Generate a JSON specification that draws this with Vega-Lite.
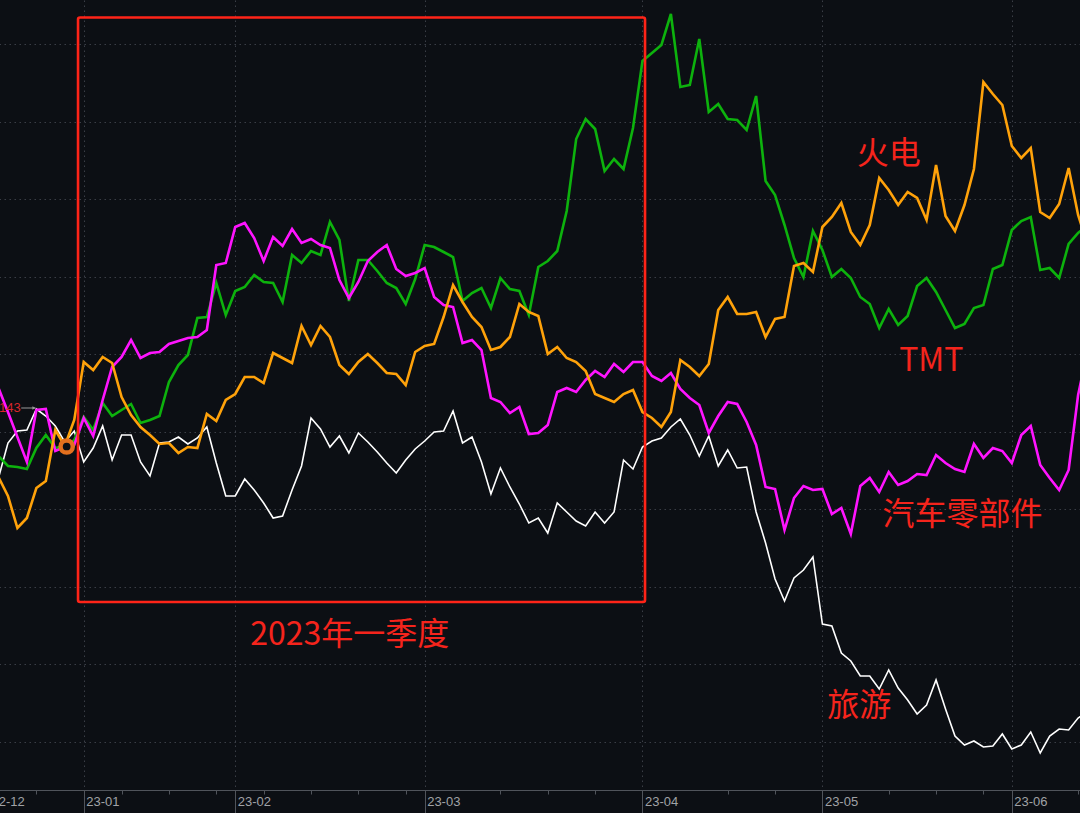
{
  "$schema": "https://vega.github.io/schema/vega-lite/v6.json",
  "width": 1080,
  "height": 790,
  "autosize": {"type": "none"},
  "padding": {"left": 0, "top": 0, "right": 0, "bottom": 23},
  "background": "#0c0f14",
  "config": {"view": {"stroke": null}},
  "resolve": {"axis": {"x": "independent", "y": "independent"}},
  "datasets": {
    "s": [
      {"d":-1,"tour":93.4,"auto":111.4,"tmt":97.8,"power":93.6},
      {"d":0,"tour":100.4,"auto":106.6,"tmt":95.8,"power":89.8},
      {"d":1,"tour":102.8,"auto":101.6,"tmt":95.6,"power":83.4},
      {"d":2,"tour":103.0,"auto":96.6,"tmt":95.2,"power":85.4},
      {"d":3,"tour":107.2,"auto":107.0,"tmt":99.4,"power":91.4},
      {"d":4,"tour":105.8,"auto":107.2,"tmt":102.0,"power":92.8},
      {"d":5,"tour":103.8,"auto":98.8,"tmt":99.4,"power":103.0},
      {"d":6,"tour":100.6,"auto":99.6,"tmt":99.8,"power":99.8},
      {"d":7,"tour":102.8,"auto":100.0,"tmt":101.0,"power":105.0},
      {"d":8,"tour":96.6,"auto":105.4,"tmt":105.6,"power":116.6},
      {"d":9,"tour":99.4,"auto":101.8,"tmt":103.0,"power":115.0},
      {"d":10,"tour":103.8,"auto":109.0,"tmt":108.4,"power":117.6},
      {"d":11,"tour":97.0,"auto":115.6,"tmt":105.8,"power":116.4},
      {"d":12,"tour":102.0,"auto":117.6,"tmt":107.0,"power":109.6},
      {"d":13,"tour":102.0,"auto":121.0,"tmt":108.2,"power":106.0},
      {"d":14,"tour":96.6,"auto":117.4,"tmt":104.4,"power":103.6},
      {"d":15,"tour":93.8,"auto":118.4,"tmt":105.0,"power":102.0},
      {"d":16,"tour":100.4,"auto":118.6,"tmt":105.8,"power":100.2},
      {"d":17,"tour":100.6,"auto":120.2,"tmt":112.6,"power":100.4},
      {"d":18,"tour":101.6,"auto":120.8,"tmt":116.0,"power":98.4},
      {"d":19,"tour":100.2,"auto":121.4,"tmt":118.0,"power":99.6},
      {"d":20,"tour":101.4,"auto":121.6,"tmt":125.4,"power":99.4},
      {"d":21,"tour":103.6,"auto":123.0,"tmt":125.6,"power":106.2},
      {"d":22,"tour":96.4,"auto":136.0,"tmt":132.4,"power":104.8},
      {"d":23,"tour":89.8,"auto":136.4,"tmt":126.0,"power":109.0},
      {"d":24,"tour":89.8,"auto":143.6,"tmt":130.8,"power":110.2},
      {"d":25,"tour":93.2,"auto":144.4,"tmt":131.6,"power":113.6},
      {"d":26,"tour":91.0,"auto":141.4,"tmt":134.0,"power":113.6},
      {"d":27,"tour":88.4,"auto":136.8,"tmt":132.6,"power":112.4},
      {"d":28,"tour":85.4,"auto":141.6,"tmt":132.4,"power":118.4},
      {"d":29,"tour":85.8,"auto":139.8,"tmt":128.6,"power":117.4},
      {"d":30,"tour":91.0,"auto":143.2,"tmt":138.0,"power":116.4},
      {"d":31,"tour":95.8,"auto":140.4,"tmt":136.4,"power":123.8},
      {"d":32,"tour":105.4,"auto":141.2,"tmt":138.8,"power":120.0},
      {"d":33,"tour":103.2,"auto":140.0,"tmt":138.0,"power":123.8},
      {"d":34,"tour":99.6,"auto":139.4,"tmt":144.6,"power":121.6},
      {"d":35,"tour":101.8,"auto":133.0,"tmt":141.0,"power":116.0},
      {"d":36,"tour":98.4,"auto":129.4,"tmt":128.8,"power":114.2},
      {"d":37,"tour":102.4,"auto":132.6,"tmt":137.0,"power":116.6},
      {"d":38,"tour":100.6,"auto":136.8,"tmt":137.0,"power":118.2},
      {"d":39,"tour":98.6,"auto":138.6,"tmt":134.8,"power":116.4},
      {"d":40,"tour":96.4,"auto":140.0,"tmt":132.4,"power":114.4},
      {"d":41,"tour":94.4,"auto":135.2,"tmt":131.4,"power":114.2},
      {"d":42,"tour":97.0,"auto":133.8,"tmt":128.2,"power":112.0},
      {"d":43,"tour":99.2,"auto":134.4,"tmt":133.2,"power":118.6},
      {"d":44,"tour":100.8,"auto":135.4,"tmt":140.0,"power":119.8},
      {"d":45,"tour":102.6,"auto":129.6,"tmt":139.6,"power":120.2},
      {"d":46,"tour":102.8,"auto":128.0,"tmt":138.6,"power":125.6},
      {"d":47,"tour":106.8,"auto":127.6,"tmt":137.6,"power":132.0},
      {"d":48,"tour":100.4,"auto":120.4,"tmt":128.8,"power":128.6},
      {"d":49,"tour":101.6,"auto":121.0,"tmt":130.4,"power":125.6},
      {"d":50,"tour":96.6,"auto":119.0,"tmt":131.4,"power":123.6},
      {"d":51,"tour":90.2,"auto":109.4,"tmt":127.4,"power":119.0},
      {"d":52,"tour":95.4,"auto":108.6,"tmt":133.4,"power":119.6},
      {"d":53,"tour":91.6,"auto":106.4,"tmt":131.2,"power":121.6},
      {"d":54,"tour":88.2,"auto":107.6,"tmt":130.8,"power":128.2},
      {"d":55,"tour":84.4,"auto":102.2,"tmt":126.0,"power":126.6},
      {"d":56,"tour":85.4,"auto":102.4,"tmt":135.6,"power":125.8},
      {"d":57,"tour":82.4,"auto":104.0,"tmt":136.8,"power":118.2},
      {"d":58,"tour":88.4,"auto":110.6,"tmt":138.8,"power":119.6},
      {"d":59,"tour":86.6,"auto":111.4,"tmt":146.8,"power":117.4},
      {"d":60,"tour":84.8,"auto":110.6,"tmt":161.2,"power":116.6},
      {"d":61,"tour":83.8,"auto":113.0,"tmt":165.2,"power":114.8},
      {"d":62,"tour":86.6,"auto":114.8,"tmt":163.2,"power":110.2},
      {"d":63,"tour":84.4,"auto":113.6,"tmt":154.8,"power":109.4},
      {"d":64,"tour":86.6,"auto":116.2,"tmt":157.2,"power":108.6},
      {"d":65,"tour":97.0,"auto":114.6,"tmt":155.2,"power":110.2},
      {"d":66,"tour":95.2,"auto":116.6,"tmt":163.4,"power":111.0},
      {"d":67,"tour":99.6,"auto":116.6,"tmt":176.8,"power":106.6},
      {"d":68,"tour":100.8,"auto":113.8,"tmt":178.4,"power":105.4},
      {"d":69,"tour":101.4,"auto":112.8,"tmt":180.0,"power":103.6},
      {"d":70,"tour":103.6,"auto":114.4,"tmt":186.2,"power":106.6},
      {"d":71,"tour":105.2,"auto":111.2,"tmt":171.6,"power":117.0},
      {"d":72,"tour":102.0,"auto":109.4,"tmt":172.0,"power":115.6},
      {"d":73,"tour":97.8,"auto":108.0,"tmt":181.2,"power":113.8},
      {"d":74,"tour":101.8,"auto":102.4,"tmt":166.6,"power":116.2},
      {"d":75,"tour":95.8,"auto":105.8,"tmt":168.2,"power":127.0},
      {"d":76,"tour":99.0,"auto":108.6,"tmt":165.2,"power":129.6},
      {"d":77,"tour":95.4,"auto":108.2,"tmt":165.0,"power":126.2},
      {"d":78,"tour":95.6,"auto":104.6,"tmt":163.0,"power":126.2},
      {"d":79,"tour":86.6,"auto":100.0,"tmt":169.8,"power":126.6},
      {"d":80,"tour":80.4,"auto":91.6,"tmt":152.8,"power":121.6},
      {"d":81,"tour":73.2,"auto":91.2,"tmt":150.0,"power":125.2},
      {"d":82,"tour":68.8,"auto":83.0,"tmt":144.0,"power":125.6},
      {"d":83,"tour":73.4,"auto":89.4,"tmt":137.4,"power":135.8},
      {"d":84,"tour":75.0,"auto":91.8,"tmt":133.6,"power":136.4},
      {"d":85,"tour":77.6,"auto":91.0,"tmt":142.8,"power":134.6},
      {"d":86,"tour":64.2,"auto":91.2,"tmt":139.0,"power":143.6},
      {"d":87,"tour":63.8,"auto":86.2,"tmt":133.6,"power":145.6},
      {"d":88,"tour":58.4,"auto":87.4,"tmt":135.2,"power":148.4},
      {"d":89,"tour":56.8,"auto":82.2,"tmt":133.4,"power":142.6},
      {"d":90,"tour":53.8,"auto":91.8,"tmt":129.6,"power":140.0},
      {"d":91,"tour":53.8,"auto":93.4,"tmt":128.2,"power":144.0},
      {"d":92,"tour":51.2,"auto":90.6,"tmt":123.4,"power":153.4},
      {"d":93,"tour":55.0,"auto":94.6,"tmt":127.2,"power":151.0},
      {"d":94,"tour":51.4,"auto":92.0,"tmt":124.0,"power":148.0},
      {"d":95,"tour":49.0,"auto":92.8,"tmt":125.8,"power":150.6},
      {"d":96,"tour":46.2,"auto":94.2,"tmt":131.8,"power":149.4},
      {"d":97,"tour":48.0,"auto":94.0,"tmt":133.4,"power":145.0},
      {"d":98,"tour":53.0,"auto":98.0,"tmt":130.6,"power":156.0},
      {"d":99,"tour":47.2,"auto":96.4,"tmt":127.0,"power":145.8},
      {"d":100,"tour":41.8,"auto":95.2,"tmt":123.4,"power":142.8},
      {"d":101,"tour":40.0,"auto":94.6,"tmt":124.2,"power":148.0},
      {"d":102,"tour":40.8,"auto":100.2,"tmt":127.4,"power":155.2},
      {"d":103,"tour":39.6,"auto":97.4,"tmt":128.0,"power":172.6},
      {"d":104,"tour":39.8,"auto":99.4,"tmt":135.2,"power":170.2},
      {"d":105,"tour":42.2,"auto":98.8,"tmt":136.0,"power":168.0},
      {"d":106,"tour":39.2,"auto":96.4,"tmt":143.0,"power":159.8},
      {"d":107,"tour":40.0,"auto":102.0,"tmt":144.8,"power":157.4},
      {"d":108,"tour":42.6,"auto":103.8,"tmt":145.6,"power":159.4},
      {"d":109,"tour":38.4,"auto":96.0,"tmt":135.0,"power":146.6},
      {"d":110,"tour":41.8,"auto":93.4,"tmt":135.4,"power":145.4},
      {"d":111,"tour":43.2,"auto":91.0,"tmt":133.4,"power":148.2},
      {"d":112,"tour":43.0,"auto":95.0,"tmt":140.2,"power":155.4},
      {"d":113,"tour":45.4,"auto":110.0,"tmt":142.4,"power":146.0},
      {"d":114,"tour":46.6,"auto":119.0,"tmt":144.0,"power":140.0}
    ],
    "notes": [
      {"t":"火电","d":93.0,"v":158.2},
      {"t":"TMT","d":97.5,"v":116.8},
      {"t":"汽车零部件","d":100.8,"v":86.0},
      {"t":"旅游","d":89.9,"v":47.8},
      {"t":"2023年一季度","d":36.1,"v":62.0}
    ]
  },
  "layer": [
    {
      "data": {"name": "s"},
      "mark": {"type": "line", "color": "#ffffff", "strokeWidth": 1.6, "clip": true},
      "encoding": {
        "x": {"field": "d", "type": "quantitative",
          "scale": {"domain": [-2, 113.2], "range": [-10.99, 1080], "nice": false, "zero": false},
          "axis": {
            "orient": "bottom",
            "title": null,
            "values": [-2, 8, 24, 44, 67, 86, 106],
            "labelExpr": "datum.value == -2 ? '22-12' : datum.value == 8 ? '23-01' : datum.value == 24 ? '23-02' : datum.value == 44 ? '23-03' : datum.value == 67 ? '23-04' : datum.value == 86 ? '23-05' : '23-06'",
            "labelAlign": "left",
            "labelBaseline": "top",
            "labelPadding": -18,
            "labelOffset": 2,
            "labelFlush": false,
            "labelOverlap": false,
            "labelBound": false,
            "labelColor": "#a0a2a6",
            "labelFont": "Liberation Sans",
            "labelFontSize": 13,
            "tickSize": 23,
            "tickColor": "#50545b",
            "domainColor": "#50545b",
            "grid": true,
            "gridColor": "#3a3e46",
            "gridDash": [1.5, 3.5]
          }
        },
        "y": {"field": "tour", "type": "quantitative",
          "scale": {"domain": [31, 189], "nice": false, "zero": false},
          "axis": {
            "orient": "left",
            "title": null,
            "values": [180.2, 164.7, 149.2, 133.7, 118.2, 102.7, 87.2, 71.7, 56.2, 40.7],
            "labels": false,
            "ticks": true, "tickSize": 0, "tickOpacity": 0,
            "domain": false,
            "grid": true, "gridColor": "#3a3e46", "gridDash": [1.5, 3.5]
          }
        }
      }
    },
    {
      "data": {"name": "s"},
      "mark": {"type": "line", "color": "#0db20d", "strokeWidth": 2.6, "clip": true},
      "encoding": {
        "x": {"field": "d", "type": "quantitative", "scale": {"domain": [-2, 113.2], "range": [-10.99, 1080], "nice": false, "zero": false},
          "axis": {
            "orient": "bottom",
            "title": null,
            "values": [3, 12, 17, 22, 27, 32, 37, 42, 52, 57, 62, 76, 81, 93, 98, 103, 113],
            "labels": false,
            "domain": false,
            "grid": false,
            "tickSize": 4,
            "tickColor": "#50545b"
          }
        },
        "y": {"field": "tmt", "type": "quantitative", "scale": {"domain": [31, 189], "nice": false, "zero": false}, "axis": null}
      }
    },
    {
      "data": {"name": "s"},
      "mark": {"type": "line", "color": "#ff14ff", "strokeWidth": 2.6, "clip": true},
      "encoding": {
        "x": {"field": "d", "type": "quantitative", "scale": {"domain": [-2, 113.2], "range": [-10.99, 1080], "nice": false, "zero": false}, "axis": null},
        "y": {"field": "auto", "type": "quantitative", "scale": {"domain": [31, 189], "nice": false, "zero": false}, "axis": null}
      }
    },
    {
      "data": {"name": "s"},
      "mark": {"type": "line", "color": "#ffa20a", "strokeWidth": 2.6, "clip": true},
      "encoding": {
        "x": {"field": "d", "type": "quantitative", "scale": {"domain": [-2, 113.2], "range": [-10.99, 1080], "nice": false, "zero": false}, "axis": null},
        "y": {"field": "power", "type": "quantitative", "scale": {"domain": [31, 189], "nice": false, "zero": false}, "axis": null}
      }
    },
    {
      "data": {"values": [{}]},
      "mark": {"type": "point", "shape": "circle", "filled": true, "fill": "#0c0f14", "stroke": "#e3701e", "strokeWidth": 4.5, "size": 150, "opacity": 1},
      "encoding": {
        "x": {"datum": 6.2, "type": "quantitative", "scale": {"domain": [-2, 113.2], "range": [-10.99, 1080], "nice": false, "zero": false}, "axis": null},
        "y": {"datum": 99.7, "type": "quantitative", "scale": {"domain": [31, 189], "nice": false, "zero": false}, "axis": null}
      }
    },
    {
      "data": {"values": [{}]},
      "mark": {"type": "rule", "color": "#9a9a9a", "strokeWidth": 1},
      "encoding": {
        "x": {"datum": 1.4, "type": "quantitative", "scale": {"domain": [-2, 113.2], "range": [-10.99, 1080], "nice": false, "zero": false}, "axis": null},
        "x2": {"datum": 2.9},
        "y": {"datum": 107.4, "type": "quantitative", "scale": {"domain": [31, 189], "nice": false, "zero": false}, "axis": null}
      }
    },
    {
      "data": {"values": [{}]},
      "mark": {"type": "point", "shape": "triangle-right", "filled": true, "color": "#9a9a9a", "size": 14, "opacity": 1},
      "encoding": {
        "x": {"datum": 2.75, "type": "quantitative", "scale": {"domain": [-2, 113.2], "range": [-10.99, 1080], "nice": false, "zero": false}, "axis": null},
        "y": {"datum": 107.4, "type": "quantitative", "scale": {"domain": [31, 189], "nice": false, "zero": false}, "axis": null}
      }
    },
    {
      "data": {"values": [{}]},
      "mark": {"type": "text", "text": "143", "color": "#d8262c", "fontSize": 13, "font": "Liberation Sans", "align": "right", "baseline": "middle"},
      "encoding": {
        "x": {"datum": 1.35, "type": "quantitative", "scale": {"domain": [-2, 113.2], "range": [-10.99, 1080], "nice": false, "zero": false}, "axis": null},
        "y": {"datum": 107.4, "type": "quantitative", "scale": {"domain": [31, 189], "nice": false, "zero": false}, "axis": null}
      }
    },
    {
      "data": {"values": [{}]},
      "mark": {"type": "rect", "filled": false, "stroke": "#ff2418", "strokeWidth": 2.6, "cornerRadius": 2},
      "encoding": {
        "x": {"datum": 7.4, "type": "quantitative", "scale": {"domain": [-2, 113.2], "range": [-10.99, 1080], "nice": false, "zero": false}, "axis": null},
        "x2": {"datum": 67.27},
        "y": {"datum": 185.5, "type": "quantitative", "scale": {"domain": [31, 189], "nice": false, "zero": false}, "axis": null},
        "y2": {"datum": 68.6}
      }
    },
    {
      "data": {"name": "notes"},
      "mark": {"type": "text", "color": "#f5241c", "fontSize": 32, "font": "Noto Sans CJK SC", "align": "center", "baseline": "middle"},
      "encoding": {
        "x": {"field": "d", "type": "quantitative", "scale": {"domain": [-2, 113.2], "range": [-10.99, 1080], "nice": false, "zero": false}, "axis": null},
        "y": {"field": "v", "type": "quantitative", "scale": {"domain": [31, 189], "nice": false, "zero": false}, "axis": null},
        "text": {"field": "t"}
      }
    }
  ]
}
